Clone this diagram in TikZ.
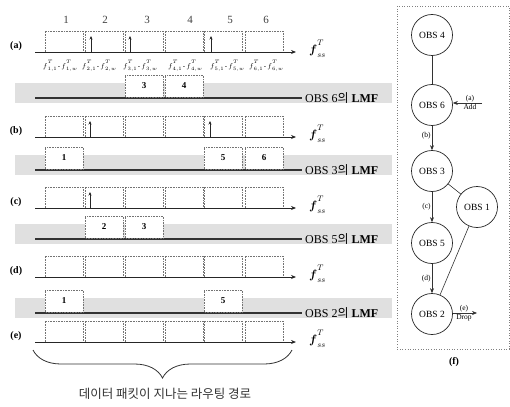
\documentclass[tikz,border=0pt]{standalone}
\usepackage{amsmath}
\usepackage{bm}
\usepackage{fontspec}
\setmainfont{Liberation Serif}
\newfontfamily\krfont{Noto Sans CJK KR}
\usetikzlibrary{arrows.meta,decorations.pathreplacing}
\newcommand\mysupsub[2]{\rlap{\raisebox{0.62em}{$\scriptstyle #1$}}\raisebox{-0.38em}{$\scriptstyle #2$}}
\begin{document}
\begin{tikzpicture}[x=1pt,y=-1pt,
  slot/.style={draw=black!55,densely dotted,line width=0.6pt},
  lmfslot/.style={slot,fill=white},
  axisline/.style={draw=black!85,line width=0.9pt,-{Stealth[length=5pt,width=4pt]}},
  lmfline/.style={draw=black!80,line width=1.1pt},
  stemline/.style={draw=black!85,line width=0.8pt,-{Stealth[length=3.5pt,width=3pt]}},
  rowlab/.style={font=\bfseries\fontsize{10}{10}\selectfont},
  toplab/.style={font=\fontsize{11}{11}\selectfont,text=black!75},
  sublab/.style={font=\fontsize{7}{7}\selectfont,inner sep=0pt},
  numlab/.style={font=\bfseries\fontsize{9}{9}\selectfont},
  lmftext/.style={anchor=west,font=\fontsize{12}{12}\selectfont,inner sep=1pt},
  axlab/.style={anchor=west,inner sep=1pt,font=\fontsize{12}{12}\selectfont},
  band/.style={fill=black!12},
  obs/.style={circle,draw=black!85,line width=0.7pt,minimum size=41pt,inner sep=0pt,fill=white,font=\fontsize{9.5}{10}\selectfont},
  obsline/.style={draw=black!80,line width=0.6pt},
  obsarrow/.style={obsline,-{Stealth[length=5pt,width=4pt]}},
  edgelab/.style={font=\fontsize{7.5}{7.5}\selectfont,inner sep=1pt},
  frame/.style={draw=black!50,dotted,line width=0.6pt}
]
\useasboundingbox (0,0) rectangle (510,406);

% gray bands behind the LMF rows
\foreach \y in {98,170,239,313} {
  \fill[band] (15,\y-15) rectangle (392,\y+5);
}

% top numbers
\foreach \n/\x in {1/66,2/105,3/147,4/190,5/230,6/266} {
  \node[toplab] (num\n) at (\x,20) {\n};
}

% axis rows
\foreach \r/\y in {a/52,b/137,c/208,d/277,e/342} {
  \foreach \xl in {45,85,125,165,204,245} {
    \draw[slot] (\xl,\y) rectangle ++(38,-21);
  }
  \node[rowlab] (lab\r) at (16,\y-6) {(\r)};
  \coordinate (s\r) at (35,\y);
  \coordinate (t\r) at (296,\y);
  \draw[axisline] (s\r) -- (t\r);
  \node[axlab] (f\r) at (308,\y-3) {$\bm{f}$\mysupsub{T}{ss}};
}

% stems (arrivals)
\foreach \x/\y [count=\i] in {91/52,130/52,211/52,90/137,210/137,90/208} {
  \coordinate (st\i) at (\x,\y);
  \coordinate (sh\i) at (\x,\y-16);
  \draw[stemline] (st\i) -- (sh\i);
}

% wavelength labels under row (a)
\foreach \i/\x in {1/60,2/99,3/140,4/185,5/227,6/266} {
  \node[sublab] (w\i) at (\x,66) {$f$\mysupsub{T}{\i,1}\,-\,$f$\mysupsub{T}{\i,w}};
}

% LMF rows
\foreach \y/\o in {98/6,170/3,239/5,313/2} {
  \coordinate (ls\o) at (35,\y);
  \coordinate (le\o) at (302,\y);
  \draw[lmfline] (ls\o) -- (le\o);
  \node[lmftext] (lmf\o) at (304,\y) {OBS \o{\krfont 의} \textbf{LMF}};
}
\foreach \y/\xl/\n in {98/125/3,98/165/4,170/45/1,170/204/5,170/245/6,239/85/2,239/125/3,313/45/1,313/204/5} {
  \draw[lmfslot] (\xl,\y-1) rectangle ++(38,-22);
  \node[numlab] (box\y-\n) at (\xl+19,\y-12) {\n};
}

% brace and caption
\coordinate (br0) at (33,350);
\coordinate (br1) at (292,350);
\draw[black!80,line width=0.8pt,decorate,decoration={brace,mirror,amplitude=28pt}] (br0) -- (br1);
\node[font=\krfont\fontsize{12.5}{13}\selectfont,text=black!80] (cap) at (165,394) {데이터 패킷이 지나는 라우팅 경로};

% panel (f)
\draw[frame] (397,6) rectangle (509,349);
\node[obs] (o4) at (432,35) {OBS 4};
\node[obs] (o6) at (432,105) {OBS 6};
\node[obs] (o3) at (432,171) {OBS 3};
\node[obs] (o5) at (432,243) {OBS 5};
\node[obs] (o2) at (432,314) {OBS 2};
\node[obs] (o1) at (477,207) {OBS 1};
\draw[obsline] (o4) -- (o6);
\draw[obsarrow] (o6) -- (o3) node[edgelab,pos=0.4,left] (eb) {(b)};
\draw[obsarrow] (o3) -- (o5) node[edgelab,pos=0.5,left] (ec) {(c)};
\draw[obsarrow] (o5) -- (o2) node[edgelab,pos=0.5,left] (ed) {(d)};
\draw[obsline] (o3) -- (o1);
\draw[obsline] (o1) -- (o2);
\coordinate (addin) at (482,103);
\draw[obsarrow] (addin) -- (o6.east |- addin);
\node[edgelab,anchor=south] (la) at (470,103) {(a)};
\node[edgelab,anchor=north] (ladd) at (470,103) {Add};
\coordinate (dropout) at (477,313);
\draw[obsarrow] (o2.east |- dropout) -- (dropout);
\node[edgelab,anchor=south] (le) at (464,313) {(e)};
\node[edgelab,anchor=north] (ldrop) at (464,313) {Drop};
\node[font=\bfseries\fontsize{10}{10}\selectfont] (lf) at (454,362) {(f)};
\end{tikzpicture}
\end{document}
